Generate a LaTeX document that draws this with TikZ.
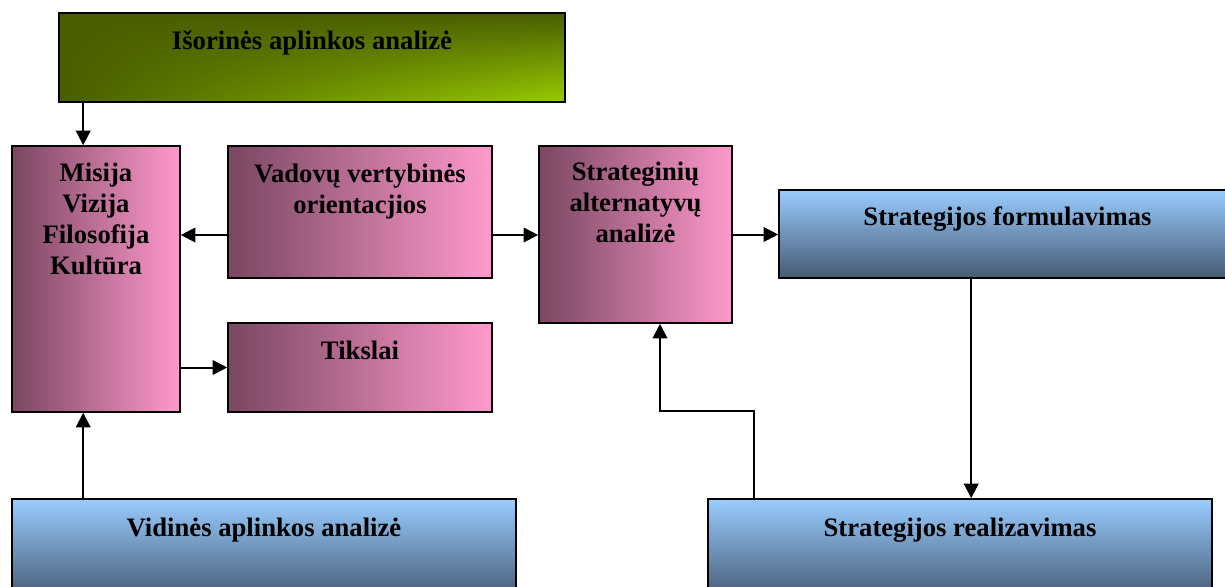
\documentclass[tikz,border=0pt]{standalone}
\usepackage{fontspec}
\setmainfont{Liberation Serif}
\usetikzlibrary{arrows.meta,calc,fadings}
\definecolor{pinkL}{HTML}{7A4761}
\definecolor{pinkR}{HTML}{FF99CC}
\definecolor{blueT}{HTML}{99CCFF}
\definecolor{blueB}{HTML}{465A73}
\definecolor{grnD}{HTML}{4A5E00}
\definecolor{grnB}{HTML}{99CC00}
\tikzset{
  box/.style={draw=black, line width=1.2pt, rectangle, inner sep=0pt},
  pinkbox/.style={box, left color=pinkL, right color=pinkR},
  bluebox/.style={box, top color=blueT, bottom color=blueB},
  greenbox/.style={box, preaction={left color=grnD, right color=grnB},
                   preaction={fill=grnD, path fading=south}},
  lbl/.style={font=\bfseries\fontsize{20}{23.3}\selectfont, align=center, inner sep=0pt, anchor=base, text=black},
  arr/.style={line width=1.5pt, -{Triangle[length=11pt,width=11pt]}},
}
\begin{document}
\begin{tikzpicture}[x=0.75pt, y=-0.75pt]
\useasboundingbox (0,0) rectangle (1225,586);
\clip (0,0) rectangle (1225,586);
% boxes
\node[greenbox, minimum width=379.5pt, minimum height=66.75pt] (ext) at (312,57.5) {};
\node[pinkbox, minimum width=126pt, minimum height=199.5pt] (mis) at (96,279) {};
\node[pinkbox, minimum width=198pt, minimum height=99pt] (vad) at (360,212) {};
\node[pinkbox, minimum width=198pt, minimum height=66.75pt] (tik) at (360,367.5) {};
\node[pinkbox, minimum width=144.75pt, minimum height=132.75pt] (str) at (635.5,234.5) {};
\node[bluebox, minimum width=342.75pt, minimum height=66pt] (form) at (1007.5,234) {};
\node[bluebox, minimum width=378pt, minimum height=75.75pt] (vid) at (264,549.5) {};
\node[bluebox, minimum width=378pt, minimum height=75.75pt] (real) at (960,549.5) {};
% labels (base = baseline of last line)
\node[lbl] (tExt) at ($(ext.north)+(0,37)$) {Išorinės aplinkos analizė};
\node[lbl] (tMis) at ($(mis.north)+(0,129.2)$) {Misija\\Vizija\\Filosofija\\Kultūra};
\node[lbl] (tVad) at ($(vad.north)+(0,68)$) {Vadovų vertybinės\\orientacjios};
\node[lbl] (tTik) at ($(tik.north)+(0,37)$) {Tikslai};
\node[lbl] (tStr) at ($(str.north)+(0,97.1)$) {Strateginių\\alternatyvų\\analizė};
\node[lbl] (tForm) at ($(form.north)+(0,36)$) {Strategijos formulavimas};
\node[lbl] (tVid) at ($(vid.north)+(0,38)$) {Vidinės aplinkos analizė};
\node[lbl] (tReal) at ($(real.north)+(0,38)$) {Strategijos realizavimas};
% connectors
\coordinate (a1) at ($(ext.south west)+(25,0)$);
\draw[arr] (a1) -- (a1 |- mis.north);
\coordinate (a2) at ($(vid.north west)+(72,0)$);
\draw[arr] (a2) -- (a2 |- mis.south);
\coordinate (a3) at ($(vad.west)+(0,23)$);
\draw[arr] (a3) -- (a3 -| mis.east);
\coordinate (a4) at ($(vad.east)+(0,23)$);
\draw[arr] (a4) -- (a4 -| str.west);
\draw[arr] (tik.west -| mis.east) -- (tik.west);
\draw[arr] (str.east) -- (str.east -| form.west);
\coordinate (a5) at ($(form.south west)+(193,0)$);
\draw[arr] (a5) -- (a5 |- real.north);
\coordinate (a6) at ($(real.north west)+(47,0)$);
\coordinate (a7) at ($(str.south)+(24.5,0)$);
\draw[arr] (a6) -- ++(0,-87) -| (a7);
\end{tikzpicture}
\end{document}
